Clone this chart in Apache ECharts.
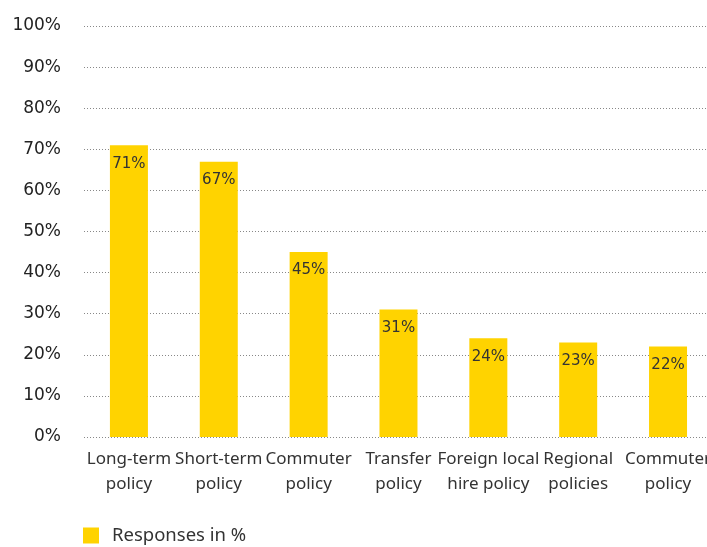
<!DOCTYPE html>
<html>
<head>
<meta charset="utf-8">
<script src="https://cdn.jsdelivr.net/npm/echarts@6/dist/echarts.min.js"></script>
<style>
  html, body { margin: 0; padding: 0; background: #fff; overflow: hidden; }
  #chart { width: 714px; height: 547px; }
</style>
</head>
<body>
<div id="chart"></div>
<script>
// Policy types and share of responses
const categories = [
  'Long-term\npolicy',
  'Short-term\npolicy',
  'Commuter\npolicy',
  'Transfer\npolicy',
  'Foreign local\nhire policy',
  'Regional\npolicies',
  'Commuter\npolicy'
];
const responses = [71, 67, 45, 31, 24, 23, 22];
const seriesName = 'Responses in %';

const chart = echarts.init(document.getElementById('chart'), null, { renderer: 'canvas' });

chart.setOption({
  animation: false,
  textStyle: { fontFamily: 'Noto Sans' },
  grid: { left: 84, top: 26, right: 0, bottom: 110, containLabel: false },
  legend: {
    left: 78,
    top: 521,
    icon: 'rect',
    itemWidth: 16,
    itemHeight: 16,
    itemGap: 10,
    textStyle: { fontSize: 18.5, color: '#333', fontFamily: 'Noto Sans', padding: [0, 0, 0, 8] },
    data: [seriesName]
  },
  xAxis: {
    type: 'category',
    data: categories,
    axisLine: { show: false },
    axisTick: { show: false },
    axisLabel: {
      interval: 0,
      margin: 10,
      fontSize: 17,
      lineHeight: 25,
      color: '#333',
      fontFamily: 'Noto Sans'
    }
  },
  yAxis: {
    type: 'value',
    min: 0,
    max: 100,
    interval: 10,
    axisLine: { show: false },
    axisTick: { show: false },
    axisLabel: {
      formatter: '{value}%',
      margin: 23,
      fontSize: 17,
      color: '#222',
      fontFamily: 'DejaVu Sans'
    },
    splitLine: {
      show: true,
      lineStyle: { type: [1, 2], color: '#888', width: 1 }
    }
  },
  series: [{
    name: seriesName,
    type: 'bar',
    data: responses,
    barWidth: 38,
    itemStyle: { color: '#FFD300' },
    label: {
      show: true,
      position: 'insideTop',
      distance: 11,
      formatter: '{c}%',
      fontSize: 15,
      color: '#333',
      fontFamily: 'DejaVu Sans'
    }
  }]
});
</script>
</body>
</html>
